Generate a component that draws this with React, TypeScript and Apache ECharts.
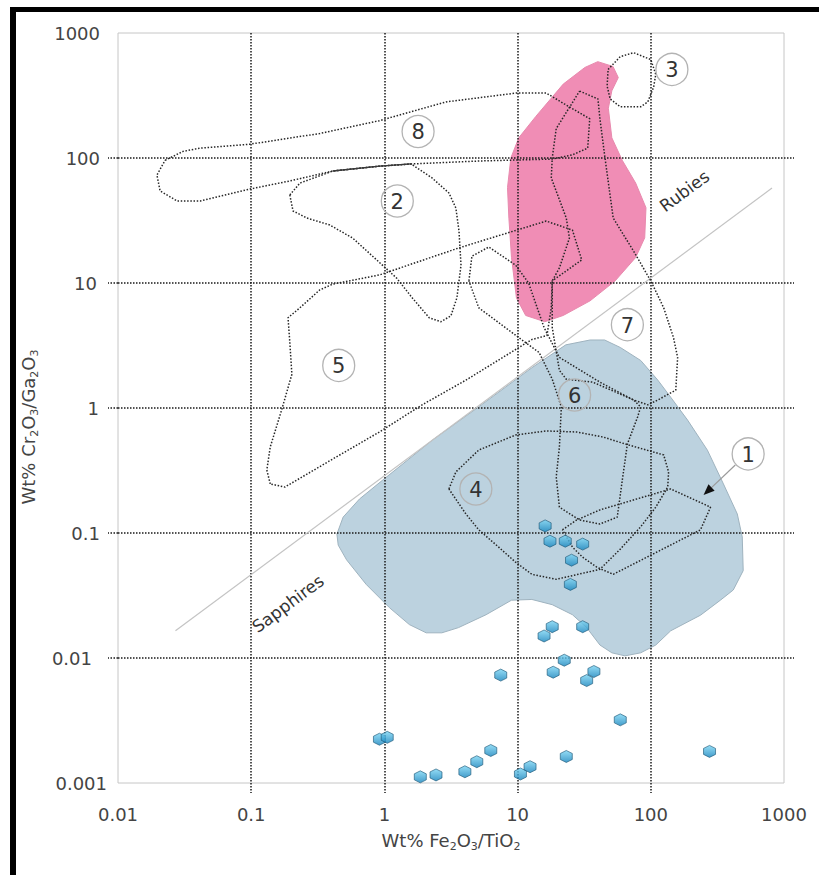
import React, { useEffect, useRef } from 'react';
import * as echarts from 'echarts';

// ---------- axis ticks ----------
const X_TICK_LABELS = ['0.01', '0.1', '1', '10', '100', '1000'];
const Y_TICK_LABELS = ['0.001', '0.01', '0.1', '1', '10', '100', '1000'];
const X_TICK_VALUES = [0.01, 0.1, 1, 10, 100, 1000];
const Y_TICK_VALUES = [0.001, 0.01, 0.1, 1, 10, 100, 1000];
const X_INNER_TICKS = [0.1, 1, 10, 100];
const Y_INNER_TICKS = [0.01, 0.1, 1, 10, 100];

// ---------- filled fields ----------
const RUBY_FIELD = [[40,590],[52,540],[57,440],[51,345],[48,250],[51,145],[61,96],[77,63],[92,40],[90,23],[77,16],[54,10.4],[35,7.2],[22,5.5],[16,4.9],[11.5,5.5],[9.8,7.6],[9.0,16],[8.6,33],[8.4,58],[8.9,100],[10.2,145],[13.7,215],[22,390],[32,530]];
const SAPPHIRE_FIELD = [[0.44,0.098],[0.49,0.134],[0.65,0.187],[0.97,0.265],[2.3,0.555],[5.1,1.02],[12.8,2.1],[23,3.2],[35,3.5],[45,3.5],[59,3.05],[84,2.4],[113,1.67],[141,1.22],[189,0.8],[266,0.46],[351,0.247],[446,0.142],[486,0.093],[494,0.05],[416,0.035],[333,0.029],[236,0.022],[141,0.0165],[109,0.0127],[84,0.011],[64,0.0104],[51,0.011],[41.5,0.0127],[33,0.0175],[25.8,0.0222],[18.2,0.0267],[12.8,0.0294],[9.0,0.029],[5.8,0.0222],[3.6,0.0175],[2.7,0.0159],[2.06,0.0159],[1.54,0.0185],[1.09,0.0253],[0.73,0.0388],[0.52,0.061],[0.45,0.08]];

// ---------- dotted outline fields ----------
const FIELD_1 = [[21.7,0.106],[27.7,0.127],[41.5,0.153],[59,0.171],[141,0.225],[281,0.161],[236,0.106],[52.2,0.0467],[39.4,0.0532],[30.8,0.064],[25.8,0.0771]];
const FIELD_2 = [[0.195,50.6],[0.232,63],[0.41,78.7],[0.918,86],[1.59,89.6],[2.28,69.2],[3.05,52.5],[3.44,39.8],[3.63,26.1],[3.76,13.9],[3.5,7.6],[3.16,5.47],[2.66,4.9],[2.17,5.27],[1.62,7.6],[1.23,11],[0.966,13.9],[0.577,22.9],[0.389,29.1],[0.262,33.1],[0.206,37.7]];
const FIELD_3 = [[47.8,511],[59,647],[74.2,696],[100,613],[109,467],[105,369],[94.9,281],[83.9,257],[59,257],[49.5,297],[47,376]];
const FIELD_4 = [[3.05,0.225],[3.44,0.308],[5.11,0.461],[9.66,0.608],[16.4,0.655],[27.7,0.643],[43.8,0.586],[64.4,0.515],[125,0.421],[136,0.308],[134,0.233],[109,0.161],[83.9,0.112],[59,0.0743],[41.5,0.0512],[19.5,0.0426],[12.8,0.0467],[9.66,0.0584],[7.21,0.0771],[5.11,0.106],[4.09,0.142]];
const FIELD_5 = [[0.139,0.247],[0.131,0.319],[0.139,0.488],[0.17,0.98],[0.202,1.86],[0.195,3.34],[0.189,5.27],[0.232,6.33],[0.327,8.8],[0.41,9.8],[0.918,11.6],[3.63,19.1],[16.4,31.3],[25.8,26.5],[30.3,15.3],[23.2,12.5],[18.2,10.4],[17.9,6.33],[16.6,3.8],[12.8,3.53],[4.09,1.67],[1.92,1.06],[0.918,0.643],[0.41,0.391],[0.179,0.233]];
const FIELD_6 = [[4.31,10.4],[4.54,16.4],[6.08,19.4],[9.66,13.9],[12.1,10],[15.8,4.4],[20.6,2.54],[41.5,1.61],[74.2,1.16],[83.9,1.02],[79.6,0.847],[66.7,0.515],[61.1,0.265],[56,0.134],[41.5,0.118],[29.2,0.127],[20.6,0.161],[19.5,0.281],[20.6,0.488],[21.3,1.02],[18.2,1.7],[14.5,2.78],[10.2,3.66],[5.11,6.33]];
const FIELD_7 = [[29.2,343],[40.1,297],[41.5,206],[45.3,100],[52.2,33.1],[74.2,18],[100,10.4],[125,6.33],[148,3.66],[159,2.54],[154,1.39],[113,1.16],[94.9,1.06],[74.2,1.16],[36.7,1.61],[23.2,1.7],[20.6,2.0],[18.2,4.4],[18.2,10.4],[20.6,13.2],[24.5,22.9],[23.2,33.1],[17.9,69.2],[18.2,100],[19.5,172]];
const FIELD_8 = [[0.0226,96],[0.0308,113],[0.0414,120],[0.098,129],[0.327,157],[0.918,199],[2.9,281],[9.8,331],[16.4,331],[22.4,271],[34.8,206],[33.6,120],[25.8,106],[18.2,98],[5.1,94.6],[1.59,89.6],[0.918,86],[0.41,78.7],[0.195,65.5],[0.098,56.5],[0.0414,45.3],[0.0278,45.3],[0.0207,54.5],[0.0196,73.1]];
const OUTLINE_FIELDS = [FIELD_1, FIELD_2, FIELD_3, FIELD_4, FIELD_5, FIELD_6, FIELD_7, FIELD_8];
const SHARED_EDGE = [[0.41,78.7],[0.918,86],[1.59,89.6]];

// ---------- samples ----------
const SAMPLES = [[16.1,0.114],[17.5,0.086],[22.8,0.086],[30.8,0.0815],[25.4,0.0606],[24.9,0.0388],[18.2,0.0178],[15.8,0.015],[30.8,0.0178],[22.4,0.0096],[18.5,0.0077],[7.47,0.0073],[37.4,0.0078],[33,0.0066],[59,0.0032],[0.918,0.00224],[1.05,0.00232],[6.29,0.00182],[4.94,0.00148],[4.02,0.00123],[2.44,0.00116],[1.86,0.00112],[10.5,0.00118],[12.4,0.00135],[23.2,0.00163],[276,0.00179]];

// ---------- annotations ----------
const DIVIDER = [[0.027,0.0165],[813,57.5]];
const FIELD_LABELS = ['1', '2', '3', '4', '5', '6', '7', '8'];
const FIELD_LABEL_POS = [[538,0.429],[1.25,45.3],[144,511],[4.86,0.225],[0.454,2.19],[26.8,1.27],[66.7,4.64],[1.79,163]];
const ARROW = [[431,0.35],[249,0.201]];
const REGION_NAMES = ['Rubies', 'Sapphires'];
const REGION_NAME_POS = [[179,54.5],[0.189,0.0272]];

const FONT = 'DejaVu Sans';
const TEXT = '#444';
const DOT = { color: '#1a1a1a', width: 1.5, type: [1.5, 1.5] as number[] };
const Y_LABEL_PAD: Record<string, string> = { '0.001': 'p0', '0.01': 'p15', '0.1': 'p7', '1': 'p8', '10': 'p10', '100': 'p7', '1000': 'p7' };

function decadeIndex(v: number) { return Math.round(Math.log10(v)); }

function polygonSeries(pts: number[][], fill: string, stroke: string) {
  return {
    type: 'custom', coordinateSystem: 'cartesian2d', silent: true, z: -1,
    data: [pts[0]],
    renderItem: (_p: any, api: any) => ({
      type: 'polygon',
      shape: { points: pts.map((p) => api.coord(p)) },
      style: { fill, stroke, lineWidth: 1 },
    }),
  };
}

function buildOption(): any {
  const subRich = {
    s: { fontSize: 11, lineHeight: 12, verticalAlign: 'bottom', fontFamily: FONT, color: TEXT },
  };
  const series: any[] = [
    polygonSeries(SAPPHIRE_FIELD, '#bcd2df', '#9fb3bf'),
    polygonSeries(RUBY_FIELD, '#f08db5', '#e88aae'),
    {
      type: 'line', silent: true, data: DIVIDER, symbol: 'none', z: 2,
      lineStyle: { color: '#c4c4c4', width: 1.2 },
    },
  ];
  OUTLINE_FIELDS.forEach((f) => {
    series.push({
      type: 'line', silent: true, symbol: 'none', z: 3,
      data: [...f, f[0]],
      lineStyle: { color: '#262626', width: 1.5, type: [1.5, 1.7] },
    });
  });
  series.push({
    type: 'line', silent: true, symbol: 'none', z: 3, data: SHARED_EDGE,
    lineStyle: { color: '#3a3a3a', width: 1.3 },
  });
  series.push({
    type: 'scatter', data: SAMPLES, symbol: 'path://M0,-10 L8.66,-5 L8.66,5 L0,10 L-8.66,5 L-8.66,-5 Z',
    symbolSize: [12, 12], z: 5, silent: true,
    itemStyle: {
      color: new echarts.graphic.LinearGradient(0, 0, 0, 1, [
        { offset: 0, color: '#7ad5f4' }, { offset: 1, color: '#1483bd' },
      ]),
      borderColor: '#1d5676', borderWidth: 0.8,
    },
  });
  series.push({
    type: 'custom', coordinateSystem: 'cartesian2d', silent: true, z: 6,
    data: FIELD_LABEL_POS,
    renderItem: (params: any, api: any) => {
      const c = api.coord([api.value(0), api.value(1)]);
      return {
        type: 'group', children: [
          { type: 'circle', shape: { cx: c[0], cy: c[1], r: 16 }, style: { fill: 'none', stroke: '#b3b3b3', lineWidth: 1.3 } },
          { type: 'text', x: c[0], y: c[1] + 1, style: { text: FIELD_LABELS[params.dataIndex], fontSize: 21, fontFamily: FONT, fill: '#333', align: 'center', verticalAlign: 'middle' } },
        ],
      };
    },
  });
  series.push({
    type: 'custom', coordinateSystem: 'cartesian2d', silent: true, z: 6,
    data: [ARROW[0]],
    renderItem: (_p: any, api: any) => {
      const a = api.coord(ARROW[0]);
      const b = api.coord(ARROW[1]);
      const dx = b[0] - a[0], dy = b[1] - a[1];
      const len = Math.sqrt(dx * dx + dy * dy);
      const ux = dx / len, uy = dy / len;
      const nx = -uy, ny = ux;
      return {
        type: 'group', children: [
          { type: 'line', shape: { x1: a[0], y1: a[1], x2: b[0] - ux * 8, y2: b[1] - uy * 8 }, style: { stroke: '#9a9a9a', lineWidth: 1.2 } },
          { type: 'polygon', shape: { points: [[b[0], b[1]], [b[0] - ux * 11 + nx * 4.5, b[1] - uy * 11 + ny * 4.5], [b[0] - ux * 11 - nx * 4.5, b[1] - uy * 11 - ny * 4.5]] }, style: { fill: '#111' } },
        ],
      };
    },
  });
  series.push({
    type: 'custom', coordinateSystem: 'cartesian2d', silent: true, z: 6,
    data: REGION_NAME_POS,
    renderItem: (params: any, api: any) => {
      const c = api.coord([api.value(0), api.value(1)]);
      return {
        type: 'text', x: c[0], y: c[1], rotation: 0.64,
        style: { text: REGION_NAMES[params.dataIndex], fontSize: 17, fontFamily: FONT, fill: '#333', align: 'center', verticalAlign: 'middle' },
      };
    },
  });

  const yRich: any = {};
  [0, 7, 8, 10, 15].forEach((p) => { yRich['p' + p] = { padding: [0, p, 0, 0], fontSize: 18, fontFamily: FONT, color: TEXT }; });

  return {
    animation: false,
    textStyle: { fontFamily: FONT },
    grid: { left: 118, top: 33, right: 35, bottom: 92, show: true, borderColor: '#c6c6c6', borderWidth: 1, backgroundColor: 'transparent', containLabel: false },
    graphic: [
      { type: 'rect', shape: { x: 10, y: 7, width: 809, height: 5 }, style: { fill: '#000' }, z: 100 },
      { type: 'rect', shape: { x: 10, y: 7, width: 6, height: 868 }, style: { fill: '#000' }, z: 100 },
    ],
    xAxis: {
      type: 'log', logBase: 10, min: 0.01, max: 1000,
      axisLine: { show: false },
      axisTick: { show: true, length: 10, inside: false, customValues: X_INNER_TICKS, lineStyle: DOT },
      splitLine: { show: true, lineStyle: DOT },
      axisLabel: {
        customValues: X_TICK_VALUES,
        formatter: (v: number) => X_TICK_LABELS[decadeIndex(v) + 2],
        fontSize: 18, color: TEXT, margin: 22, fontFamily: FONT,
      },
      name: 'Wt% Fe{s|2}O{s|3}/TiO{s|2}', nameLocation: 'middle', nameGap: 45,
      nameTextStyle: { fontSize: 18, color: TEXT, fontFamily: FONT, lineHeight: 24, rich: subRich },
    },
    yAxis: [
      {
        type: 'log', logBase: 10, min: 0.001, max: 1000,
        axisLine: { show: false },
        axisTick: { show: true, length: 10, inside: false, customValues: Y_INNER_TICKS, lineStyle: DOT },
        splitLine: { show: true, lineStyle: DOT },
        axisLabel: {
          customValues: Y_TICK_VALUES,
          formatter: (v: number) => {
            const t = Y_TICK_LABELS[decadeIndex(v) + 3];
            return '{' + Y_LABEL_PAD[t] + '|' + t + '}';
          },
          rich: yRich, fontSize: 18, color: TEXT, margin: 11, fontFamily: FONT,
        },
        name: 'Wt% Cr{s|2}O{s|3}/Ga{s|2}O{s|3}', nameLocation: 'middle', nameGap: 78, nameRotate: 90,
        nameTextStyle: { fontSize: 18, color: TEXT, fontFamily: FONT, lineHeight: 24, padding: [0, 38, 0, 0], rich: subRich },
      },
      {
        type: 'log', logBase: 10, min: 0.001, max: 1000, position: 'right',
        axisLine: { show: false },
        axisTick: { show: true, length: 10, inside: false, customValues: Y_INNER_TICKS, lineStyle: DOT },
        splitLine: { show: false },
        axisLabel: { show: false },
      },
    ],
    series,
  };
}

export default function App() {
  const ref = useRef<HTMLDivElement>(null);
  useEffect(() => {
    const chart = echarts.init(ref.current!, null, { renderer: 'svg' });
    chart.setOption(buildOption());
    return () => chart.dispose();
  }, []);
  return (
    <div
      ref={ref}
      style={{ position: 'absolute', left: 0, top: 0, width: 819, height: 875, background: '#fff' }}
    />
  );
}
